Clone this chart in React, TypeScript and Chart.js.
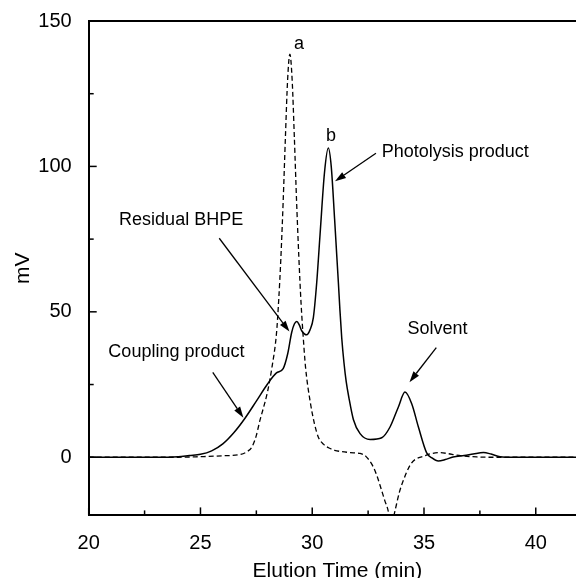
import React, { useEffect, useRef } from "react";
import { Chart, registerables } from "chart.js";

Chart.register(...registerables);

const FONT = '"Liberation Sans", Arial, Helvetica, sans-serif';

// Solid trace (photolysis sample)
const solidX = [20, 23, 24, 24.5, 25, 25.5, 26, 26.5, 27, 27.5, 28, 28.4, 28.7, 28.9, 29.08, 29.2, 29.31, 29.42, 29.53, 29.75, 29.9, 30.05, 30.2, 30.35, 30.55, 30.72, 30.85, 31.0, 31.1, 31.17, 31.24, 31.32, 31.42, 31.52, 31.64, 31.84, 32.14, 32.59, 33.11, 33.48, 33.85, 34.15, 34.45, 34.75, 35.12, 35.35, 35.64, 35.95, 36.3, 36.8, 37.2, 37.66, 38.0, 38.4, 39, 41.8];
const solidY = [0, 0, 0.2, 0.6, 1.0, 2.2, 4.6, 8.5, 13.5, 19.3, 25.2, 29, 30.5, 35.5, 42.9, 45.8, 46.7, 45.5, 43.5, 42.1, 43.8, 48, 60, 76.6, 98, 106.3, 100, 82, 69, 60, 50.5, 41, 32.5, 26, 20.5, 13, 8.1, 6.1, 6.7, 10.4, 17.2, 22.4, 18.4, 10.4, 1.5, -0.2, -1.3, -0.8, 0.1, 0.6, 1.1, 1.6, 1.1, 0.2, 0, 0];

// Dashed trace (BHPE reference)
const dashedX = [20, 24, 25, 26, 26.8, 27.1, 27.3, 27.5, 27.66, 27.8, 28.0, 28.2, 28.4, 28.5, 28.6, 28.7, 28.8, 28.9, 29.0, 29.1, 29.2, 29.3, 29.4, 29.5, 29.6, 29.7, 29.9, 30.1, 30.27, 30.5, 30.8, 31.0, 31.7, 32.14, 32.4, 32.73, 32.9, 33.1, 33.25, 33.4, 33.52, 33.7, 33.9, 34.08, 34.38, 34.6, 34.97, 35.3, 35.72, 36.1, 36.46, 37.36, 38, 41.8];
const dashedY = [0, 0, 0.2, 0.5, 1.0, 2.0, 3.5, 7.5, 12.7, 16.5, 22.5, 31, 42.5, 54, 69, 88, 110, 130, 138.6, 130, 110, 88, 69, 53, 41, 31, 19.5, 11.5, 7, 4.5, 3, 2.4, 1.6, 1.3, 0.3, -3.3, -6.5, -11.3, -15, -18.5, -24, -18.5, -12, -7.9, -2.7, -0.8, 0.3, 1.2, 1.6, 1.2, 0.7, 0.1, 0, 0];

// Axes
const xMin = 20;
const xMax = 41.8;
const yMin = -20;
const yMax = 150;
const xTicks = [20, 25, 30, 35, 40];
const xMinorTicks = [22.5, 27.5, 32.5, 37.5];
const yTicks = [0, 50, 100, 150];
const yMinorTicks = [25, 75, 125];
const xTitle = "Elution Time (min)";
const yTitle = "mV";

// Annotation texts (data coordinates of text anchor, alphabetic baseline)
const noteText = ["a", "b", "Photolysis product", "Residual BHPE", "Coupling product", "Solvent"];
const noteX = [29.41, 30.84, 33.11, 21.36, 20.88, 34.26];
const noteY = [140.4, 108.9, 103.4, 79.7, 34.3, 42.4];
const noteAlign = ["center", "center", "left", "left", "left", "left"];

// Arrows (from -> tip), data coordinates
const arrowFromX = [32.85, 25.84, 25.55, 35.55];
const arrowFromY = [104.5, 75.3, 29.2, 37.7];
const arrowToX = [31.02, 28.98, 26.92, 34.35];
const arrowToY = [94.9, 43.2, 13.6, 25.8];

const overlayPlugin = {
  id: "overlay",
  afterDraw(chart: any) {
    const { ctx, chartArea: a, scales } = chart;
    const xs = scales.x;
    const ys = scales.y;
    ctx.save();
    ctx.strokeStyle = "#000";
    ctx.fillStyle = "#000";
    // top frame line
    ctx.lineWidth = 2;
    ctx.beginPath();
    ctx.moveTo(a.left, a.top);
    ctx.lineTo(a.right, a.top);
    ctx.stroke();
    // inward ticks
    ctx.lineWidth = 1.5;
    const tick = (px: number, len: number, horiz: boolean) => {
      ctx.beginPath();
      if (horiz) {
        ctx.moveTo(px, a.bottom);
        ctx.lineTo(px, a.bottom - len);
      } else {
        ctx.moveTo(a.left, px);
        ctx.lineTo(a.left + len, px);
      }
      ctx.stroke();
    };
    xTicks.forEach((v) => tick(xs.getPixelForValue(v), 8, true));
    xMinorTicks.forEach((v) => tick(xs.getPixelForValue(v), 5, true));
    yTicks.forEach((v) => tick(ys.getPixelForValue(v), 8, false));
    yMinorTicks.forEach((v) => tick(ys.getPixelForValue(v), 5, false));

    // axis titles
    ctx.font = `21px ${FONT}`;
    ctx.textAlign = "center";
    ctx.textBaseline = "alphabetic";
    ctx.fillText(xTitle, (a.left + a.right) / 2 + 5, 576.5);
    ctx.save();
    ctx.translate(28.5, (a.top + a.bottom) / 2);
    ctx.rotate(-Math.PI / 2);
    ctx.fillText(yTitle, 0, 0);
    ctx.restore();

    // annotations
    ctx.font = `18px ${FONT}`;
    noteText.forEach((t, i) => {
      ctx.textAlign = noteAlign[i] as CanvasTextAlign;
      ctx.fillText(t, xs.getPixelForValue(noteX[i]), ys.getPixelForValue(noteY[i]));
    });

    // arrows
    ctx.lineWidth = 1.3;
    arrowFromX.forEach((_, i) => {
      const x1 = xs.getPixelForValue(arrowFromX[i]);
      const y1 = ys.getPixelForValue(arrowFromY[i]);
      const x2 = xs.getPixelForValue(arrowToX[i]);
      const y2 = ys.getPixelForValue(arrowToY[i]);
      const ang = Math.atan2(y2 - y1, x2 - x1);
      const hl = 11;
      const hw = 3.5;
      const bx = x2 - hl * Math.cos(ang);
      const by = y2 - hl * Math.sin(ang);
      ctx.beginPath();
      ctx.moveTo(x1, y1);
      ctx.lineTo(bx, by);
      ctx.stroke();
      ctx.beginPath();
      ctx.moveTo(x2, y2);
      ctx.lineTo(bx + hw * Math.sin(ang), by - hw * Math.cos(ang));
      ctx.lineTo(bx - hw * Math.sin(ang), by + hw * Math.cos(ang));
      ctx.closePath();
      ctx.fill();
    });
    ctx.restore();
  },
};

export default function App() {
  const ref = useRef<HTMLCanvasElement | null>(null);
  useEffect(() => {
    document.body.style.margin = "0";
    const canvas = ref.current;
    if (!canvas) return;
    const chart = new Chart(canvas, {
      type: "line",
      data: {
        datasets: [
          {
            label: "BHPE",
            data: dashedX.map((x, i) => ({ x, y: dashedY[i] })),
            borderColor: "#000",
            borderWidth: 1.3,
            borderDash: [5, 3],
            pointRadius: 0,
            fill: false,
            cubicInterpolationMode: "monotone",
          },
          {
            label: "Sample",
            data: solidX.map((x, i) => ({ x, y: solidY[i] })),
            borderColor: "#000",
            borderWidth: 1.5,
            pointRadius: 0,
            fill: false,
            cubicInterpolationMode: "monotone",
          },
        ],
      },
      options: {
        animation: false,
        responsive: false,
        maintainAspectRatio: false,
        layout: { padding: { top: 19, right: 0, left: 0, bottom: 0 } },
        plugins: { legend: { display: false }, tooltip: { enabled: false } },
        scales: {
          x: {
            type: "linear",
            min: xMin,
            max: xMax,
            afterBuildTicks: (s: any) => {
              s.ticks = xTicks.map((v) => ({ value: v }));
            },
            afterFit: (s: any) => {
              s.height = 62.6;
            },
            ticks: {
              autoSkip: false,
              maxRotation: 0,
              color: "#000",
              padding: 8,
              font: { family: FONT, size: 20 },
            },
            grid: { display: false },
            border: { display: true, color: "#000", width: 2 },
          },
          y: {
            type: "linear",
            min: yMin,
            max: yMax,
            afterBuildTicks: (s: any) => {
              s.ticks = yTicks.map((v) => ({ value: v }));
            },
            afterFit: (s: any) => {
              s.width = 88.7;
            },
            ticks: {
              color: "#000",
              padding: 9,
              font: { family: FONT, size: 20 },
            },
            grid: { display: false },
            border: { display: true, color: "#000", width: 2 },
          },
        },
      },
      plugins: [overlayPlugin],
    });
    return () => chart.destroy();
  }, []);
  return <canvas ref={ref} width={576} height={578} style={{ display: "block", width: 576, height: 578 }} />;
}
